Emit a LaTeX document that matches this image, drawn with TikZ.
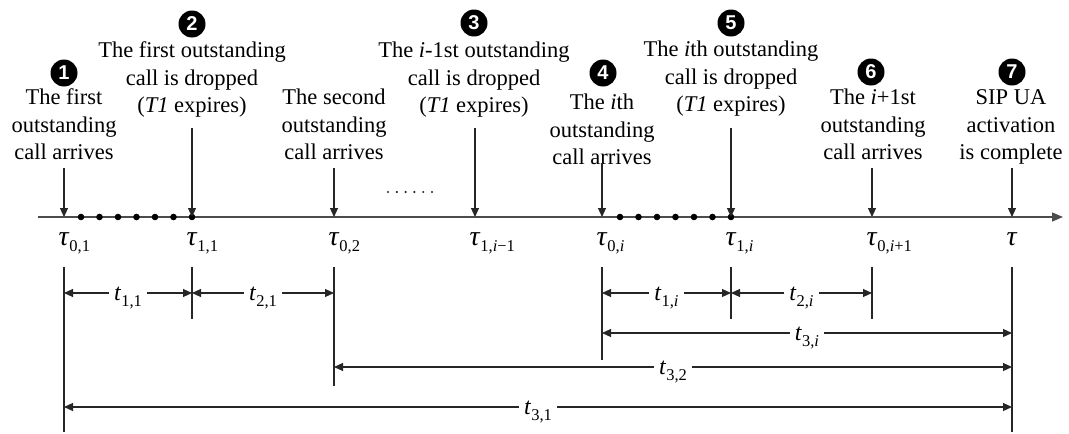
\documentclass[tikz,border=0pt]{standalone}
\usepackage{fontspec}
\setmainfont{Liberation Serif}
\newfontfamily\numfont{Liberation Sans}
\usetikzlibrary{arrows.meta}
\newcommand\lsub[1]{\raisebox{-6pt}{\fontsize{16.5}{16.5}\selectfont #1}}
\newcommand\taul[1]{\textit{τ}\rlap{\lsub{#1}}}
\newcommand\tlab[1]{\textit{t}\lsub{#1}}
\begin{document}
\begin{tikzpicture}[x=1pt,y=-1pt,
  lbl/.style={align=center,anchor=south,inner sep=0pt,text depth=0pt,font=\fontsize{22.5}{27.5}\selectfont},
  num/.style={circle,fill=black,text=white,inner sep=0pt,minimum size=27pt,font=\numfont\bfseries\fontsize{20}{20}\selectfont},
  evarrow/.style={draw=black!85,line width=1.1pt,-{Triangle[length=9pt,width=8pt]}},
  axisline/.style={draw=black!70,line width=1.4pt,-{Triangle[length=11pt,width=9pt]}},
  tick/.style={draw=black!85,line width=1.1pt},
  dim/.style={draw=black!85,line width=1.1pt,{Triangle[length=9pt,width=8pt]}-{Triangle[length=9pt,width=8pt]}},
  dimlbl/.style={anchor=base,yshift=-7pt,fill=white,inner xsep=5pt,inner ysep=1pt,font=\fontsize{24}{24}\selectfont},
  taulbl/.style={anchor=base,inner sep=0pt,font=\fontsize{28}{28}\selectfont},
  bigdot/.style={fill=black},
]
\useasboundingbox (0,0) rectangle (1069,434);

% axis
\coordinate (ax0) at (38,217);
\coordinate (ax1) at (1063,217);
\draw[axisline] (ax0) -- (ax1);

% points on axis
\coordinate (p1) at (64,217);
\coordinate (p2) at (192,217);
\coordinate (p3) at (334,217);
\coordinate (p4) at (475,217);
\coordinate (p5) at (602,217);
\coordinate (p6) at (731,217);
\coordinate (p7) at (872,217);
\coordinate (p8) at (1012,217);

% dotted segments
\foreach \k in {0,...,6} {
  \fill[bigdot] (81+\k*18.5,217) circle (3.3pt);
  \fill[bigdot] (620+\k*18.5,217) circle (3.3pt);
}
% ellipsis
\foreach \k in {0,...,5} {
  \fill[black!85] (388+\k*8.8,192) circle (1.2pt);
}

% event texts
\node[lbl] (e1) at (64,160) {The first\\outstanding\\call arrives};
\node[lbl] (e2) at (192,113) {The first outstanding\\call is dropped\\(\textit{T1} expires)};
\node[lbl] (e0) at (334,160) {The second\\outstanding\\call arrives};
\node[lbl] (e3) at (474,113) {The \textit{i}-1st outstanding\\call is dropped\\(\textit{T1} expires)};
\node[lbl] (e4) at (602,165) {The \textit{i}th\\outstanding\\call arrives};
\node[lbl] (e5) at (731,112) {The \textit{i}th outstanding\\call is dropped\\(\textit{T1} expires)};
\node[lbl] (e6) at (873,160) {The \textit{i}+1st\\outstanding\\call arrives};
\node[lbl] (e7) at (1011,160) {SIP UA\\activation\\is complete};

% numbered circles
\node[num] (n1) at (64,73) {1};
\node[num] (n2) at (192,24) {2};
\node[num] (n3) at (474,23) {3};
\node[num] (n4) at (603,73) {4};
\node[num] (n5) at (731,23) {5};
\node[num] (n6) at (871,72) {6};
\node[num] (n7) at (1012,72) {7};

% arrow starts
\coordinate (s1) at (64,168);
\coordinate (s2) at (192,128);
\coordinate (s3) at (334,168);
\coordinate (s4) at (475,128);
\coordinate (s5) at (602,163);
\coordinate (s6) at (731,128);
\coordinate (s7) at (872,168);
\coordinate (s8) at (1012,168);
\foreach \i in {1,...,8} { \draw[evarrow] (s\i) -- (p\i); }

% tau labels
\node[taulbl] (t1) at (64,245) {\taul{0,1}};
\node[taulbl] (t2) at (192,245) {\taul{1,1}};
\node[taulbl] (t3) at (334,245) {\taul{0,2}};
\node[taulbl] (t4) at (475,245) {\taul{1,\textit{i}−1}};
\node[taulbl] (t5) at (602,245) {\taul{0,\textit{i}}};
\node[taulbl] (t6) at (731,245) {\taul{1,\textit{i}}};
\node[taulbl] (t7) at (872,245) {\taul{0,\textit{i}+1}};
\node[taulbl] (t8) at (1012,245) {\textit{τ}};

% vertical reference lines
\coordinate (v1a) at (64,267);   \coordinate (v1b) at (64,432);
\coordinate (v2a) at (192,267);  \coordinate (v2b) at (192,319);
\coordinate (v3a) at (334,267);  \coordinate (v3b) at (334,386);
\coordinate (v5a) at (602,267);  \coordinate (v5b) at (602,360);
\coordinate (v6a) at (731,267);  \coordinate (v6b) at (731,319);
\coordinate (v7a) at (872,267);  \coordinate (v7b) at (872,319);
\coordinate (v8a) at (1012,267); \coordinate (v8b) at (1012,432);
\foreach \i in {1,2,3,5,6,7,8} { \draw[tick] (v\i a) -- (v\i b); }

% dimension arrows
\coordinate (d11a) at (64,293);  \coordinate (d11b) at (192,293);
\coordinate (d21a) at (192,293); \coordinate (d21b) at (334,293);
\coordinate (d1ia) at (602,293); \coordinate (d1ib) at (731,293);
\coordinate (d2ia) at (731,293); \coordinate (d2ib) at (872,293);
\coordinate (d3ia) at (602,333); \coordinate (d3ib) at (1012,333);
\coordinate (d32a) at (334,367); \coordinate (d32b) at (1012,367);
\coordinate (d31a) at (64,407);  \coordinate (d31b) at (1012,407);

\draw[dim] (d11a) -- (d11b) node[dimlbl,midway] (l11) {\tlab{1,1}};
\draw[dim] (d21a) -- (d21b) node[dimlbl,midway] (l21) {\tlab{2,1}};
\draw[dim] (d1ia) -- (d1ib) node[dimlbl,midway] (l1i) {\tlab{1,\textit{i}}};
\draw[dim] (d2ia) -- (d2ib) node[dimlbl,midway] (l2i) {\tlab{2,\textit{i}}};
\draw[dim] (d3ia) -- (d3ib) node[dimlbl,midway] (l3i) {\tlab{3,\textit{i}}};
\draw[dim] (d32a) -- (d32b) node[dimlbl,pos=0.5] (l32) {\tlab{3,2}};
\draw[dim] (d31a) -- (d31b) node[dimlbl,pos=0.5] (l31) {\tlab{3,1}};
\end{tikzpicture}
\end{document}
